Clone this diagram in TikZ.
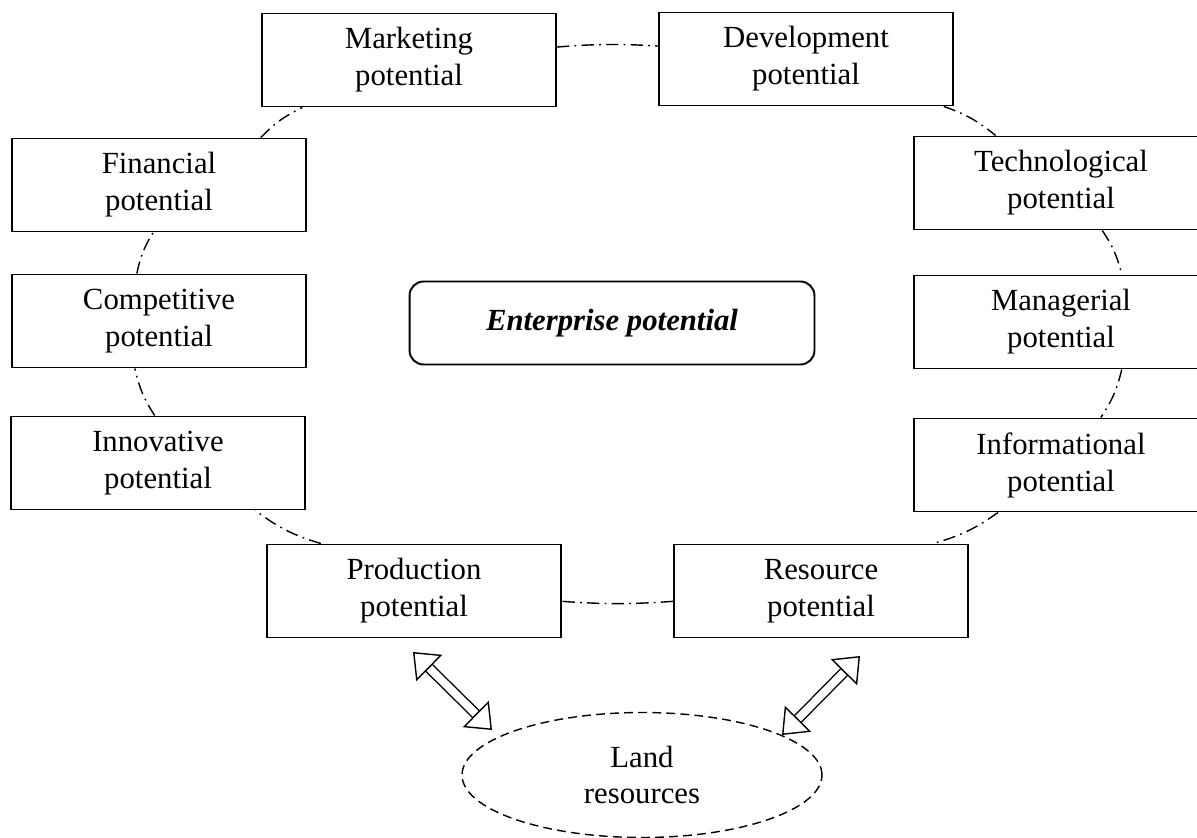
\documentclass[tikz,border=0pt]{standalone}
\usepackage{fontspec}
\setmainfont{Liberation Serif}
\usetikzlibrary{arrows.meta,shapes.geometric}

\begin{document}
\begin{tikzpicture}[x=0.02cm,y=-0.02cm,
  every node/.style={font=\fontsize{17.5}{21}\selectfont},
  pbox/.style={draw,line width=1.1pt,fill=white,minimum width=5.88cm,minimum height=1.86cm,align=center,inner sep=0pt},
  link/.style={line width=0.8pt,dash pattern=on 7pt off 3pt on 1pt off 3pt},
  landarrow/.style={line width=0.8pt,double,double distance=4.5pt,{Triangle[open,fill=white,length=13pt,width=21pt,line width=0.8pt]}-{Triangle[open,fill=white,length=13pt,width=21pt,line width=0.8pt]}}]
\useasboundingbox (0,0) rectangle (1197,838);

\node[pbox] (mark) at (409,60) {Marketing\\potential};
\node[pbox] (dev) at (806,59) {Development\\potential};

\node[pbox] (fin) at (159,185) {Financial\\potential};
\node[pbox] (tech) at (1061,183) {Technological\\potential};

\node[pbox] (comp) at (159,321) {Competitive\\potential};
\node[pbox] (mana) at (1061,322) {Managerial\\potential};

\node[pbox] (innov) at (158,463) {Innovative\\potential};
\node[pbox] (info) at (1061,465) {Informational\\potential};

\node[pbox] (prod) at (414,591) {Production\\potential};
\node[pbox] (res) at (821,591) {Resource\\potential};

\node[draw,line width=1.1pt,rounded corners=8pt,minimum width=8.1cm,minimum height=1.66cm] (ent) at (612,323) {\textbf{\textit{Enterprise potential}}};

\node[ellipse,draw,line width=0.8pt,dash pattern=on 5pt off 3pt,minimum width=7.2cm,minimum height=2.5cm,inner sep=0pt,align=center] (land) at (642,775) {Land\\resources};

\draw[link] (mark.5) to[bend left=4] (dev.175);
\draw[link] (dev.341) to[bend left=10] (tech.144);
\draw[link] (tech.311) to[bend left=10] (mana.38);
\draw[link] (mana.322) to[bend left=10] (info.50);
\draw[link] (info.217) to[bend left=10] (res.23);
\draw[link] (res.184) to[bend left=4] (prod.356);
\draw[link] (prod.153) to[bend left=10] (innov.334);
\draw[link] (innov.94) to[bend left=10] (comp.243);
\draw[link] (comp.115) to[bend left=10] (fin.263);
\draw[link] (fin.25) to[bend left=10] (mark.204);

\coordinate (pa) at (413,652);
\coordinate (pb) at (492,730);
\coordinate (ra) at (860,656);
\coordinate (rb) at (782,735);
\draw[landarrow] (pa) -- (pb);
\draw[landarrow] (ra) -- (rb);

\end{tikzpicture}
\end{document}
